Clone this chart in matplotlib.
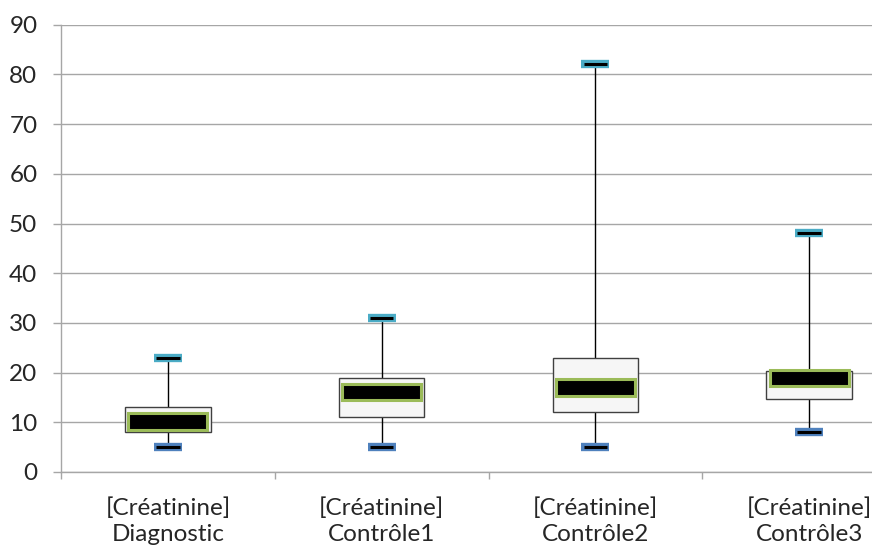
import matplotlib
matplotlib.use("Agg")
import matplotlib.pyplot as plt
from matplotlib.patches import Rectangle

plt.rcParams['font.family'] = ['Lato', 'DejaVu Sans']

categories = ["[Créatinine]\nDiagnostic", "[Créatinine]\nContrôle1",
              "[Créatinine]\nContrôle2", "[Créatinine]\nContrôle3"]
whisker_min = [5, 5, 5, 8]
q1 = [8, 11, 12, 14.7]
q3 = [13, 19, 23, 20.4]
whisker_max = [23, 31, 82, 48]
bar_low = [8.4, 14.4, 15.2, 17.4]
bar_high = [11.9, 17.8, 18.8, 20.5]
yticks = list(range(0, 91, 10))

fig = plt.figure(figsize=(8.72, 5.49), dpi=100)
ax = fig.add_axes([61/872, 77/549, 855/872, (472-24.7)/549])

grid_c = '#a6a6a6'
box_w = 0.40
bar_w = 0.37
cap_w = 0.13

for i in range(len(categories)):
    ax.plot([i, i], [whisker_min[i], whisker_max[i]], color='black', lw=1.0, zorder=3)
    ax.add_patch(Rectangle((i - box_w/2, q1[i]), box_w, q3[i]-q1[i],
                           facecolor='#f6f6f6', edgecolor='#404040', lw=1.0, zorder=4))
    ax.add_patch(Rectangle((i - bar_w/2, bar_low[i]), bar_w, bar_high[i]-bar_low[i],
                           facecolor='black', edgecolor='#9bbb59', lw=2.2, zorder=5))
    # caps
    ax.plot([i - cap_w/2, i + cap_w/2], [whisker_max[i]]*2, color='#4bacc6', lw=6,
            solid_capstyle='butt', zorder=6)
    ax.plot([i - cap_w/2 + 0.01, i + cap_w/2 - 0.01], [whisker_max[i]]*2, color='black', lw=2.2,
            solid_capstyle='butt', zorder=7)
    ax.plot([i - cap_w/2, i + cap_w/2], [whisker_min[i]]*2, color='#4f81bd', lw=6,
            solid_capstyle='butt', zorder=6)
    ax.plot([i - cap_w/2 + 0.01, i + cap_w/2 - 0.01], [whisker_min[i]]*2, color='black', lw=2.2,
            solid_capstyle='butt', zorder=7)

ax.set_xlim(-0.5, len(categories) - 0.5)
ax.set_ylim(0, 90)
ax.set_yticks(yticks)
ax.set_yticklabels([str(v) for v in yticks], fontsize=17.5, color='#262626')
ax.yaxis.grid(True, color=grid_c, lw=1.0, zorder=0)
ax.set_axisbelow(True)

ax.set_xticks(range(len(categories)))
ax.set_xticklabels(categories, fontsize=17.5, color='#262626', linespacing=1.3)
ax.set_xticks([i - 0.5 for i in range(len(categories) + 1)], minor=True)
ax.tick_params(axis='x', which='major', length=0, pad=18)
ax.tick_params(axis='x', which='minor', length=5, color=grid_c, width=1.0)
ax.tick_params(axis='y', length=6, color=grid_c, width=1.0, pad=11)

for s in ['top', 'right']:
    ax.spines[s].set_visible(False)
for s in ['left', 'bottom']:
    ax.spines[s].set_color(grid_c)
    ax.spines[s].set_linewidth(1.0)

fig.savefig('out.png', dpi=100)
